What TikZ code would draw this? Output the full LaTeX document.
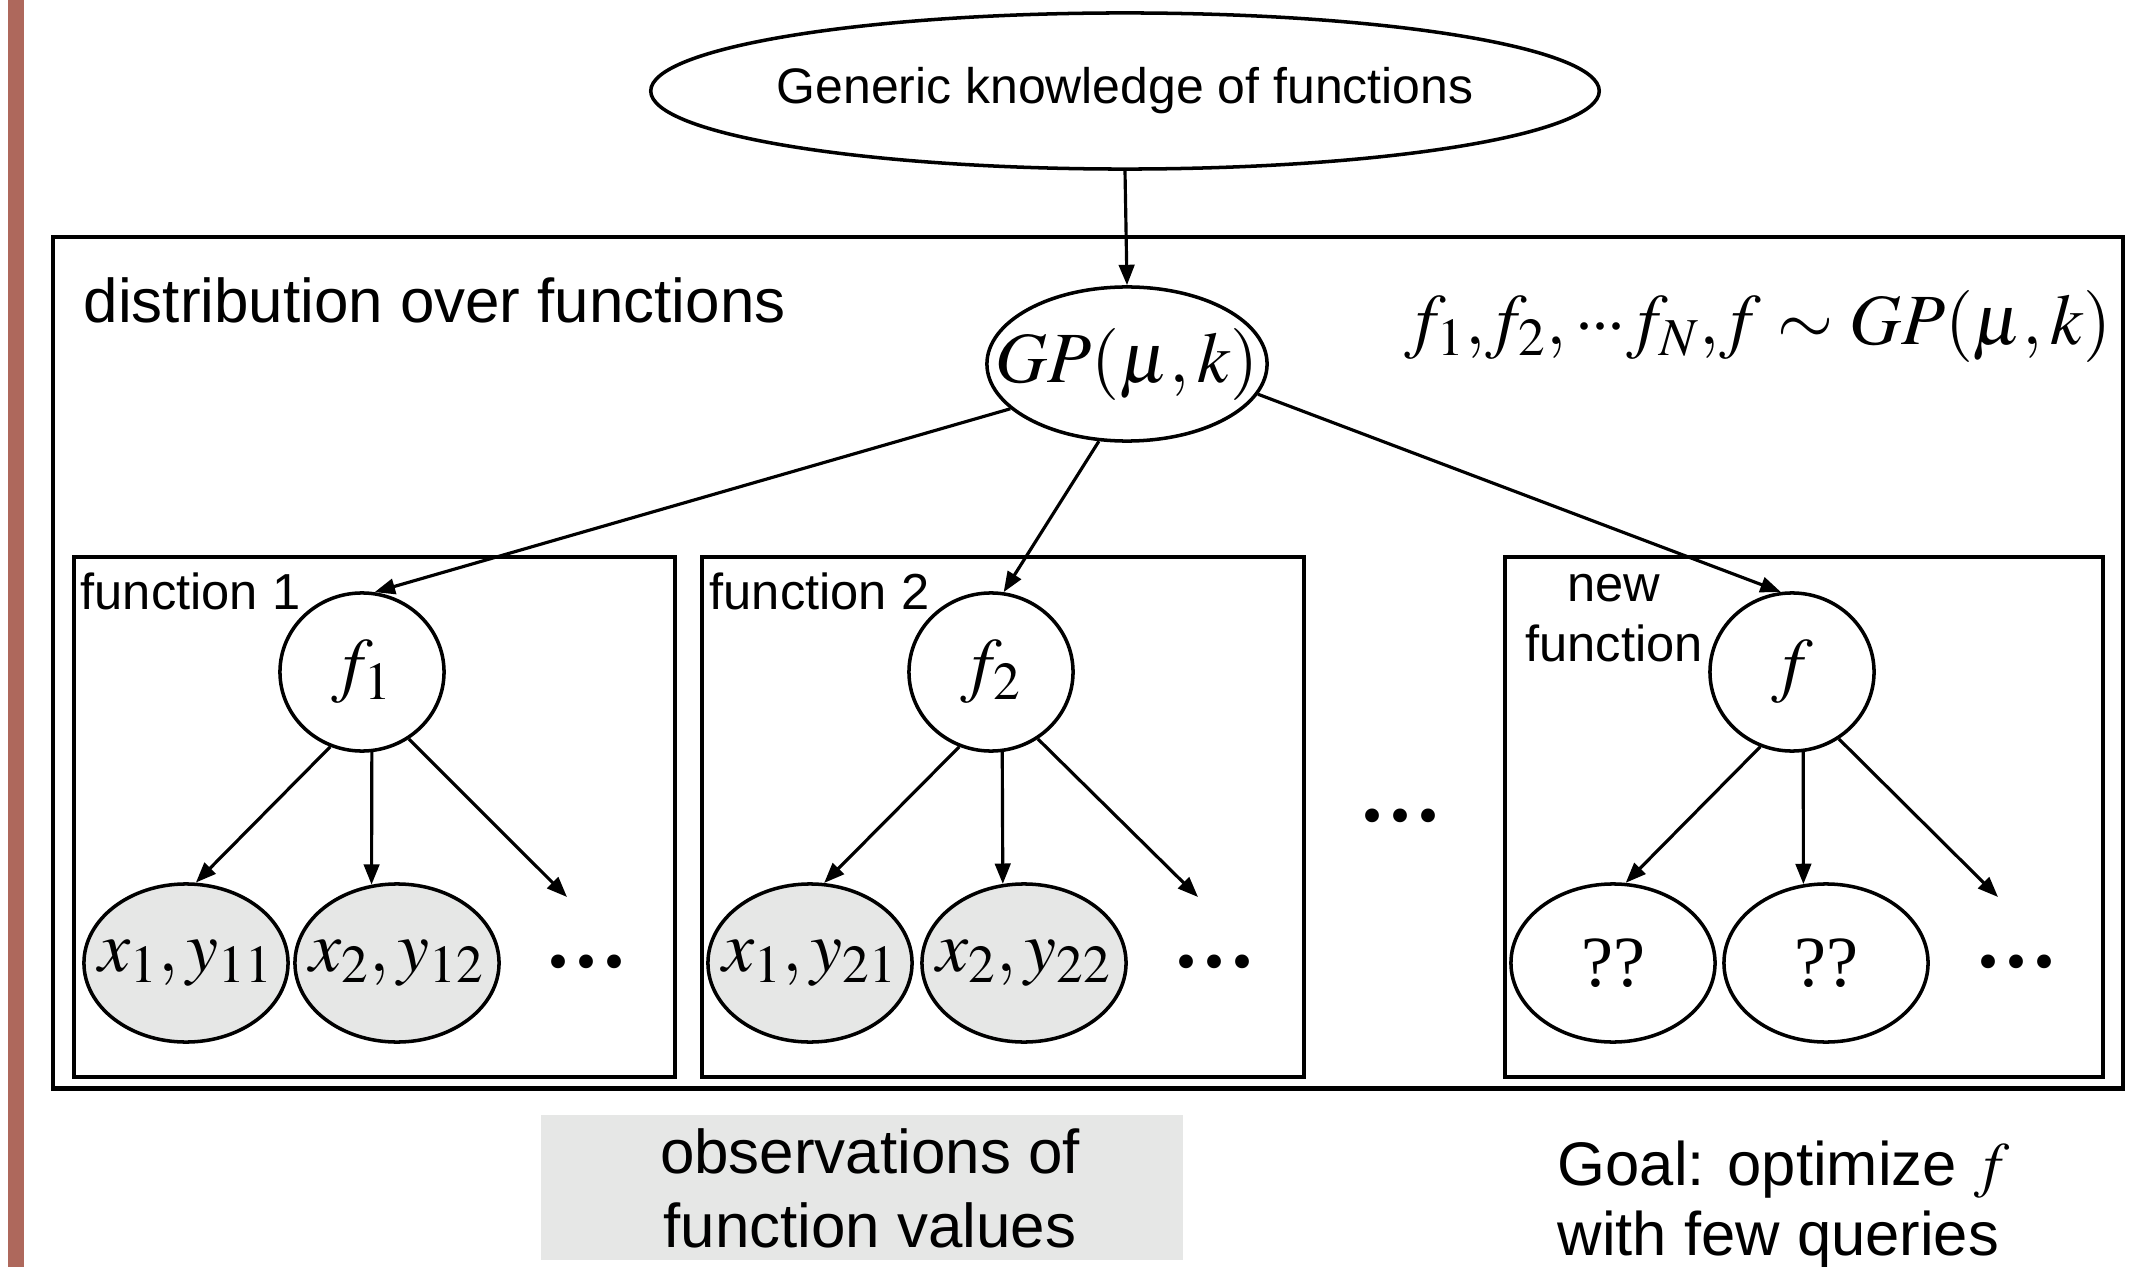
\documentclass[tikz,border=0pt]{standalone}
\usepackage{mathptmx}
\usepackage[no-math]{fontspec}
\setmainfont{Liberation Sans}
\newfontfamily\dotface{DejaVu Sans}
\newfontfamily\serifface{Liberation Serif}
\usetikzlibrary{arrows.meta,shapes.geometric}
\definecolor{obsgray}{RGB}{230,231,230}
\definecolor{barbrown}{RGB}{174,104,92}
\newcommand\fsMath{\fontsize{20.5}{24}\selectfont}
\newcommand\fsBig{\fontsize{17.6}{21}\selectfont}
\newcommand\fsPlate{\fontsize{14.4}{17.1}\selectfont}
\newcommand\fsTop{\fontsize{14.2}{16.5}\selectfont}
\newcommand\fsDots{\dotface\fontsize{13.5}{16}\selectfont}
% centre the content without letting its width grow the ellipse
\newcommand\inside[1]{\makebox[0pt]{#1}}
% tight row of three centred dots
\newcommand\tightdots{\mathord{\cdot}\mkern-1mu\mathord{\cdot}\mkern-1mu\mathord{\cdot}}

\begin{document}
\begin{tikzpicture}[x=0.01cm, y=-0.01cm,
  plate/.style={draw, line width=1.1pt, inner sep=0pt, anchor=north west},
  var/.style={ellipse, draw, line width=1pt, inner sep=0pt, font=\fsMath,
              minimum width=1.64cm, minimum height=1.58cm},
  obs/.style={ellipse, draw, line width=1pt, inner sep=0pt, font=\fsMath,
              minimum width=2.04cm, minimum height=1.58cm},
  observed/.style={obs, fill=obsgray},
  arr/.style={-{Triangle[length=5.8pt,width=4.4pt]}, line width=0.9pt},
  txt/.style={inner sep=0pt},
  dotrow/.style={inner sep=0pt, font=\fsDots}
]
\useasboundingbox (0,0) rectangle (2142,1267);
\clip (0,0) rectangle (2142,1267);

% side bar
\fill[barbrown] (8,0) rectangle (24,1267);

% prior knowledge
\node[ellipse, draw, line width=1pt, inner sep=0pt, font=\fsTop,
      minimum width=9.48cm, minimum height=1.56cm] (generic) at (1125,91)
      {\inside{Generic knowledge of functions}};

% plates
\node[plate, line width=1.2pt, minimum width=20.69cm, minimum height=8.51cm] (outer) at (51,235) {};
\node[plate, minimum width=6.01cm, minimum height=5.20cm] (box1) at (72,555) {};
\node[plate, minimum width=6.02cm, minimum height=5.20cm] (box2) at (700,555) {};
\node[plate, minimum width=5.98cm, minimum height=5.20cm] (box3) at (1503,555) {};

\node[txt, anchor=base west, font=\fsBig] (distlbl) at (83,323) {distribution over functions};
\node[txt, anchor=base, font=\fsMath] (prior) at (1758,345)
      {$f_1{,}f_2{,}\,\tightdots f_N{,}f \sim GP(\mu, k)$};

\node[txt, anchor=base west, font=\fsPlate] (lbl1) at (80,610) {function 1};
\node[txt, anchor=base west, font=\fsPlate] (lbl2) at (709,610) {function 2};
\node[txt, align=center, font=\fsPlate] (lbl3) at (1614,618) {new\\function};

% GP node
\node[var, minimum width=2.80cm, minimum height=1.54cm] (gp) at (1127,364) {\inside{$GP(\mu, k)$}};

% function nodes
\node[var] (f1) at (362,672) {\inside{$f_1$}};
\node[var] (f2) at (991,672) {\inside{$f_2$}};
\node[var] (f)  at (1792,672) {\inside{$f$}};

% observation nodes
\node[observed] (x11) at (186,963) {\inside{$x_1, y_{11}$}};
\node[observed] (x12) at (397,963) {\inside{$x_2, y_{12}$}};
\node[observed] (x21) at (810,963) {\inside{$x_1, y_{21}$}};
\node[observed] (x22) at (1024,963) {\inside{$x_2, y_{22}$}};
\node[obs] (q1) at (1613,963) {\inside{\serifface ??}};
\node[obs] (q2) at (1826,963) {\inside{\serifface ??}};

\node[dotrow] (dots1) at (586,967) {•••};
\node[dotrow] (dots2) at (1214,967) {•••};
\node[dotrow] (dots3) at (2016,967) {•••};
\node[dotrow] (dotsmid) at (1400,821) {•••};

% free ends of the "more observations" arrows
\coordinate (e1) at (567,897);
\coordinate (e2) at (1198,897);
\coordinate (e3) at (1998,897);

% connectors
\draw[arr] (generic.south) -- (gp.north);
\draw[arr] (gp.201) -- (f1.81);
\draw[arr] (gp.250) -- (f2.81);
\draw[arr] (gp.347) -- (f.98);

\draw[arr] (f1.247) -- (x11.83);
\draw[arr] (f1.277) -- (x12.108);
\draw[arr] (f1.305) -- (e1);

\draw[arr] (f2.247) -- (x21.80);
\draw[arr] (f2.278) -- (x22.105);
\draw[arr] (f2.305) -- (e2);

\draw[arr] (f.247) -- (q1.81);
\draw[arr] (f.278) -- (q2.106);
\draw[arr] (f.305) -- (e3);

% captions below
\node[fill=obsgray, inner sep=0pt, anchor=north west, minimum width=6.42cm, minimum height=1.45cm] (obsbox) at (540,1114) {};
\node[txt, align=center, font=\fsBig] (obstxt) at (870,1188) {observations of\\function values};
\node[txt, align=left, anchor=north west, font=\fontsize{17.5}{19.9}\selectfont] (goal) at (1557,1140)
      {Goal: optimize $f$\\with few queries};
\end{tikzpicture}
\end{document}
